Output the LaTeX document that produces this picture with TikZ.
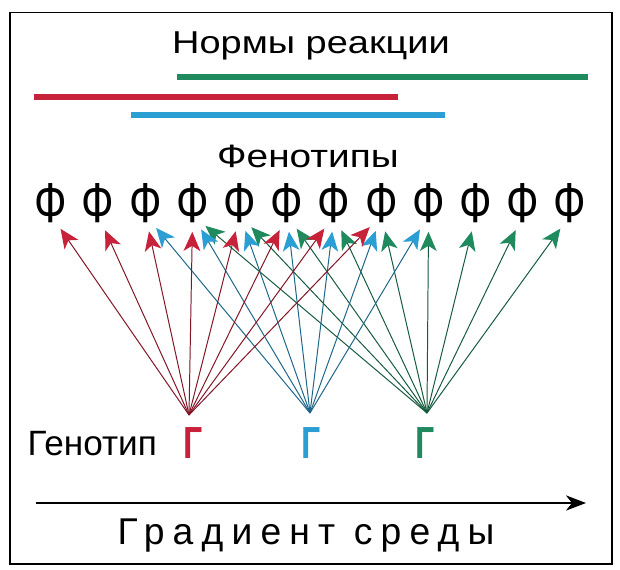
\documentclass[tikz,border=0pt]{standalone}
\usepackage{fontspec}
\usepackage{graphicx}
\setmainfont{Liberation Sans}
\newfontfamily\widesans[FakeStretch=1.2]{Liberation Sans}
\newfontfamily\spacedsans[LetterSpace=22]{Liberation Sans}
\usetikzlibrary{arrows.meta,positioning,calc}
\definecolor{normred}{HTML}{C8213A}
\definecolor{normblue}{HTML}{2B9ED3}
\definecolor{normgreen}{HTML}{1F8A5E}
\tikzset{
    normbar/.style={line width=3.6pt},
    fanarrow/.style={line width=0.7pt, draw=#1!65!black, shorten >=0.42cm, -{Stealth[length=4.8mm, width=4.2mm, inset=1.3mm, color=#1]}},
    phenlabel/.style={font=\fontsize{40}{40}\selectfont, inner sep=0pt, anchor=base},
    genlabel/.style={font=\fontsize{32}{32}\selectfont\bfseries, inner sep=0pt, anchor=base},
    titlelabel/.style={inner sep=0pt, anchor=base}
}

\begin{document}
\begin{tikzpicture}[x=0.025cm, y=-0.025cm]
        \useasboundingbox (0,0) rectangle (620,570);
        \fill[white] (0,0) rectangle (620,570);
        \draw[line width=1pt] (10,12.5) rectangle (612,564);
        \node[titlelabel, font=\widesans\fontsize{22.5}{26}\selectfont] (norms) at (311,54) {Нормы реакции};
        \draw[normbar, normgreen] (177,77) -- (588,77);
        \draw[normbar, normred] (34,97) -- (398,97);
        \draw[normbar, normblue] (131,115) -- (445,115);
        \node[titlelabel, font=\widesans\fontsize{23}{27}\selectfont] (phentitle) at (308,168) {Фенотипы};
        \foreach \i in {1,...,12}{
            \node[phenlabel] (phen\i) at ({51+47.2*(\i-1)},223) {\scalebox{0.76}[1]{Ф}};
            \coordinate (aim\i) at ({51+47.2*(\i-1)},215);
        }
        \node[genlabel, text=normred] (gen1) at (193,459) {\scalebox{0.75}[1]{Г}};
        \node[genlabel, text=normblue] (gen2) at (311,459) {\scalebox{0.75}[1]{Г}};
        \node[genlabel, text=normgreen] (gen3) at (425,459) {\scalebox{0.75}[1]{Г}};
        \node[titlelabel, font=\fontsize{25}{29}\selectfont, left=6.5mm of gen1] (gentitle) {Генотип};
        \coordinate (fan1) at (189,415);
        \coordinate (fan2) at (310,413);
        \coordinate (fan3) at (427,413);
        % fans of arrows: genotype -> phenotypes
        \foreach \i in {4,...,12} \draw[fanarrow=normgreen] (fan3) -- (aim\i);
        \foreach \i in {3,...,9} \draw[fanarrow=normblue] (fan2) -- (aim\i);
        \foreach \i in {1,...,8} \draw[fanarrow=normred] (fan1) -- (aim\i);
        % environment axis
        \coordinate (axisstart) at (36,503);
        \coordinate (axisend) at (586,503);
        \draw[line width=1pt, -{Stealth[length=5mm, width=3.8mm, inset=1.5mm]}] (axisstart) -- (axisend);
        \node[titlelabel, font=\spacedsans\fontsize{26.5}{30}\selectfont] (gradient) at (306,545) {Градиент среды};
    \end{tikzpicture}
\end{document}
